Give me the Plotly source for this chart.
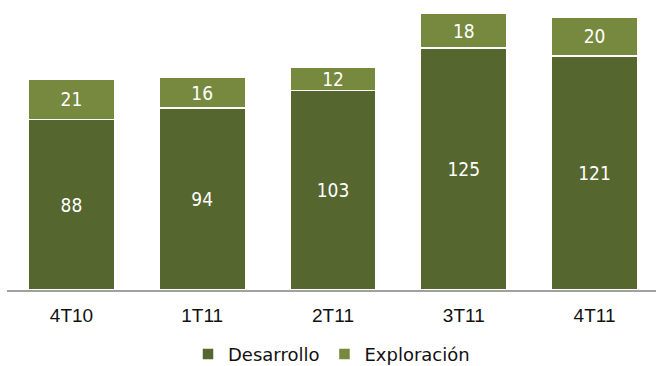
import plotly.graph_objects as go

categories = ["4T10", "1T11", "2T11", "3T11", "4T11"]
desarrollo = [88, 94, 103, 125, 121]
exploracion = [21, 16, 12, 18, 20]

dark = "#56662F"
light = "#77893F"
label_font = dict(family="DejaVu Sans Condensed, DejaVu Sans", size=19, color="white")

fig = go.Figure()
fig.add_trace(go.Bar(
    x=categories, y=desarrollo, name="Desarrollo",
    marker=dict(color=dark, line=dict(color="white", width=1.5)),
    text=desarrollo, textposition="inside", insidetextanchor="middle",
    textfont=label_font, constraintext="none", textangle=0, width=0.66,
    hoverinfo="skip",
))
fig.add_trace(go.Bar(
    x=categories, y=exploracion, name="Exploración",
    marker=dict(color=light, line=dict(color="white", width=1.5)),
    text=exploracion, textposition="inside", insidetextanchor="middle",
    textfont=label_font, constraintext="none", textangle=0, width=0.66,
    hoverinfo="skip",
))

fig.update_layout(
    barmode="stack",
    width=656, height=366,
    margin=dict(l=7, r=0, t=0, b=76),
    paper_bgcolor="white", plot_bgcolor="white",
    showlegend=True,
    legend=dict(
        orientation="h", x=0.5, xanchor="center",
        yref="container", y=0.032, yanchor="middle",
        font=dict(family="DejaVu Sans", size=18, color="#111111"),
        itemwidth=30, traceorder="normal",
    ),
    xaxis=dict(
        range=[-0.493, 4.47], showgrid=False, zeroline=False,
        showline=True, linecolor="#A0A0A0", linewidth=2,
        ticks="outside", ticklen=7, tickcolor="rgba(0,0,0,0)",
        tickfont=dict(family="Liberation Sans, Arial", size=19, color="#111111"),
    ),
    yaxis=dict(range=[0, 149.8], visible=False, showgrid=False, zeroline=False),
)

fig.write_html("out.html")
